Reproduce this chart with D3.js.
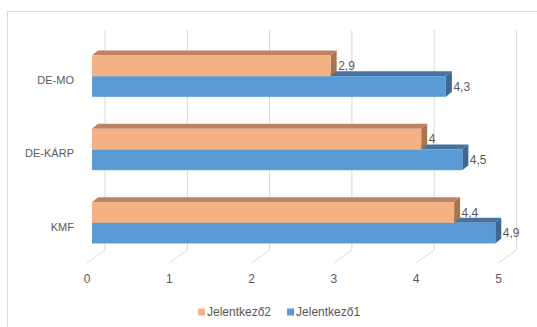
<!DOCTYPE html>
<html>
<head>
<meta charset="utf-8">
<script src="https://cdn.jsdelivr.net/npm/d3@7"></script>
<style>
  body { margin: 0; background: #fff; }
  text { font-family: "Liberation Sans", Arial, sans-serif; fill: #595959; }
</style>
</head>
<body>
<div class="chart"></div>
<script>
// data
var categories = ["DE-MO", "DE-KÁRP", "KMF"];
var seriesNames = ["Jelentkező2", "Jelentkező1"];
var jelentkezo2 = [2.9, 4.0, 4.4];
var jelentkezo1 = [4.3, 4.5, 4.9];
var tickValues = [0, 1, 2, 3, 4, 5];

var width = 537, height = 327;

// colors (front, top, side)
var faceColors = [
  { front: "#F4B183", top: "#BE8362", side: "#A8754F", legend: "#F4B183" },
  { front: "#5B9BD5", top: "#44739F", side: "#3C6893", legend: "#5B9BD5" }
];
var gridColor = "#D9D9D9";

// 3d offsets
var depthX = 6, depthY = -5;     // bar depth
var backX = 13, backY = -9.5;    // bar plane -> back wall
var frontX = -5, frontY = 3.5;   // bar plane -> front floor edge

var svg = d3.select(".chart").append("svg")
  .attr("width", width)
  .attr("height", height);

svg.append("rect")
  .attr("x", 7.5).attr("y", 11.5)
  .attr("width", 540).attr("height", 330)
  .attr("fill", "#fff")
  .attr("stroke", gridColor);

var xScale = d3.scaleLinear().domain([0, 5]).range([92, 503.5]);
var yScale = d3.scaleBand().domain(categories).range([39.5, 259.5]);
var groupH = 41.3;
var subScale = d3.scaleBand().domain(seriesNames).range([0, groupH]);

var wallTop = 30, wallBottom = yScale.range()[1] + backY;

// back wall gridlines
svg.append("g").selectAll("line")
  .data(tickValues).enter().append("line")
  .attr("x1", d => xScale(d) + backX).attr("x2", d => xScale(d) + backX)
  .attr("y1", wallTop).attr("y2", wallBottom)
  .attr("stroke", gridColor).attr("stroke-width", 1);

// floor lines
svg.append("g").selectAll("line")
  .data(tickValues).enter().append("line")
  .attr("x1", d => xScale(d) + backX).attr("y1", wallBottom)
  .attr("x2", d => xScale(d) + frontX).attr("y2", yScale.range()[1] + frontY)
  .attr("stroke", gridColor).attr("stroke-width", 1);

// tick labels
svg.append("g").selectAll("text")
  .data(tickValues).enter().append("text")
  .attr("x", d => xScale(d) + frontX)
  .attr("y", 280)
  .attr("text-anchor", "middle")
  .attr("dominant-baseline", "middle")
  .style("font-size", "12px")
  .text(d => d);

// category labels
svg.append("g").selectAll("text")
  .data(categories).enter().append("text")
  .attr("x", 74)
  .attr("y", d => yScale(d) + yScale.bandwidth() / 2 + 5)
  .attr("text-anchor", "end")
  .attr("dominant-baseline", "middle")
  .style("font-size", "11px")
  .text(d => d);

// bars
var values = [jelentkezo2, jelentkezo1];
var bars = [];
categories.forEach((c, i) => {
  // bottom series first so the upper one covers it
  [1, 0].forEach(s => {
    bars.push({ cat: c, s: s, v: values[s][i] });
  });
});

function pts(arr) { return arr.map(p => p.join(",")).join(" "); }

var barG = svg.append("g").selectAll("g")
  .data(bars).enter().append("g");

barG.each(function(d) {
  var g = d3.select(this);
  var y0 = yScale(d.cat) + (yScale.bandwidth() - groupH) / 2 + subScale(seriesNames[d.s]);
  var y1 = y0 + subScale.bandwidth();
  var x0 = xScale(0), x1 = xScale(d.v);
  var col = faceColors[d.s];
  // top face
  g.append("polygon")
    .attr("points", pts([[x0, y0], [x0 + depthX, y0 + depthY], [x1 + depthX, y0 + depthY], [x1, y0]]))
    .attr("fill", col.top);
  // side face
  g.append("polygon")
    .attr("points", pts([[x1, y0], [x1 + depthX, y0 + depthY], [x1 + depthX, y1 + depthY], [x1, y1]]))
    .attr("fill", col.side);
  // front face
  g.append("rect")
    .attr("x", x0).attr("y", y0)
    .attr("width", x1 - x0).attr("height", y1 - y0)
    .attr("fill", col.front);
  // value label
  svg.append("text")
    .attr("x", x1 + depthX + 1.5)
    .attr("y", (y0 + y1) / 2 + 1)
    .attr("dominant-baseline", "middle")
    .style("font-size", "12px")
    .text(String(d.v).replace(".", ","));
});

// legend
var legend = svg.append("g");
var lx = 198;
seriesNames.forEach((name, i) => {
  legend.append("rect")
    .attr("x", lx).attr("y", 308.5)
    .attr("width", 7).attr("height", 7)
    .attr("fill", faceColors[i].legend);
  var t = legend.append("text")
    .attr("x", lx + 9).attr("y", 312.5)
    .attr("dominant-baseline", "middle")
    .style("font-size", "12px")
    .text(name);
  lx = lx + 9 + t.node().getComputedTextLength() + 16;
});
</script>
</body>
</html>
